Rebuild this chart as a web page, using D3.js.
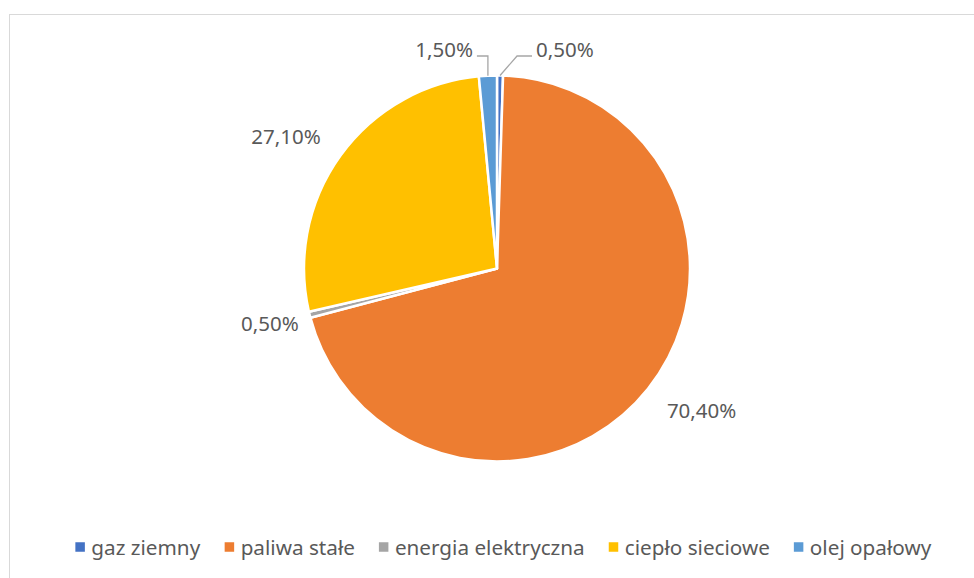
<!DOCTYPE html>
<html><head><meta charset="utf-8">
<script src="https://cdn.jsdelivr.net/npm/d3@7"></script>
<style>body{margin:0;background:#fff}svg{display:block}</style>
</head><body>
<svg id="c" width="974" height="578"></svg>
<script>
const categories = ["gaz ziemny", "paliwa stałe", "energia elektryczna", "ciepło sieciowe", "olej opałowy"];
const values = [0.5, 70.4, 0.5, 27.1, 1.5];
const labels = ["0,50%", "70,40%", "0,50%", "27,10%", "1,50%"];
const colors = ["#4472C4", "#ED7D31", "#A5A5A5", "#FFC000", "#5B9BD5"];

const svg = d3.select("#c");
const font = "'Noto Sans', sans-serif";
const fs = 20.5;
svg.append("rect").attr("x", 9.5).attr("y", 14.5).attr("width", 1000).attr("height", 700)
  .attr("fill", "#fff").attr("stroke", "#D9D9D9").attr("stroke-width", 1);

const cx = 497, cy = 268.5, r = 193;
const data = categories.map((c, i) => ({c, v: values[i], l: labels[i], col: colors[i]}));
const pie = d3.pie().value(d => d.v).sort(null);
const arcs = pie(data);
const arc = d3.arc().innerRadius(0).outerRadius(r);
const g = svg.append("g").attr("transform", `translate(${cx},${cy})`);
g.selectAll("path").data(arcs).join("path").attr("d", arc)
  .attr("fill", d => d.data.col).attr("stroke", "#fff").attr("stroke-width", 2.5).attr("stroke-linejoin", "round");

const mid = d => (d.startAngle + d.endAngle) / 2;
const pt = (a, rr) => [rr * Math.sin(a), -rr * Math.cos(a)];
const txt = (x, y, s, anchor) => g.append("text").attr("x", x).attr("y", y).attr("text-anchor", anchor)
  .attr("dominant-baseline", "central").attr("font-family", font).attr("font-size", fs).attr("fill", "#595959").text(s);

// big / side labels
[1, 2, 3].forEach(i => {
  const a = mid(arcs[i]) + (i === 2 ? 0.008 : -0.066);
  const rr = i === 2 ? 1.21 * r : 1.29 * r;
  const [x, y] = pt(a, rr);
  txt(x, y, arcs[i].data.l, "middle");
});
// leader labels at top
const lead = (i, dir) => {
  const a = mid(arcs[i]);
  const [x0, y0] = pt(a, r);
  const ly = -r - 19.5;
  const pts = dir < 0 ? [[x0, y0], [x0, ly], [x0 - 11, ly]] : [[x0, y0], [x0 + 17, ly], [x0 + 32, ly]];
  g.append("path").attr("d", d3.line()(pts)).attr("fill", "none").attr("stroke", "#A6A6A6").attr("stroke-width", 1.3);
  const e = pts[2];
  txt(e[0] + dir * 4, ly - 7, arcs[i].data.l, dir < 0 ? "end" : "start");
};
lead(4, -1);
lead(0, 1);

// legend
const leg = svg.append("g");
const items = leg.selectAll("g").data(data).join("g");
items.append("rect").attr("width", 9.5).attr("height", 9.5).attr("y", -4.75).attr("fill", d => d.col);
items.append("text").attr("x", 16).attr("dominant-baseline", "central").attr("font-family", font)
  .attr("font-size", 20.7).attr("fill", "#595959").text(d => d.c);
let x = 0;
items.each(function() {
  d3.select(this).attr("transform", `translate(${x},0)`);
  x += this.getBBox().width + 24;
});
const total = x - 24;
leg.attr("transform", `translate(${503.5 - total / 2},547)`);
</script>
</body></html>
